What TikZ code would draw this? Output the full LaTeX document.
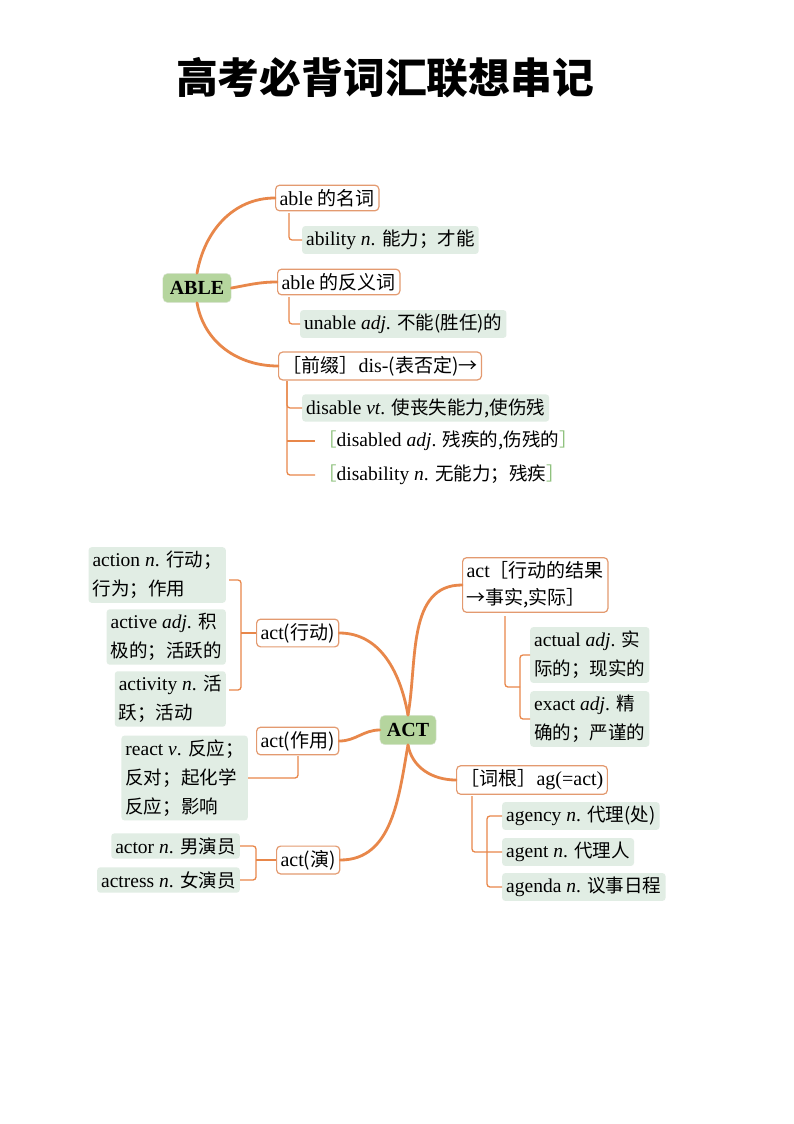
\documentclass[tikz,border=0pt]{standalone}
\usepackage{fontspec}
\setmainfont{Liberation Serif}
\newfontfamily\cjk[Scale=0.95]{Noto Sans CJK SC}
\newcommand\zh[1]{{\cjk #1}}
\definecolor{org}{HTML}{E8874A}
\definecolor{bord}{HTML}{E39A70}
\definecolor{gbox}{HTML}{B5D59E}
\definecolor{leaf}{HTML}{E1EDE4}
\definecolor{brk}{HTML}{8CC07A}
\newcommand\lb{{\color{brk}\zh{［}}}
\newcommand\rb{{\color{brk}\zh{］}}}
\tikzset{
 root/.style={draw=gbox!80!black!30,fill=gbox,rounded corners=5,font=\fontsize{20}{22}\selectfont\bfseries,inner xsep=7,inner ysep=8},
 obox/.style={draw=bord,line width=1.2,fill=white,rounded corners=4,inner sep=4,font=\fontsize{20}{27}\selectfont,anchor=west,align=left},
 lf/.style={fill=leaf,rounded corners=3,inner sep=4,font=\fontsize{19.5}{29}\selectfont,anchor=west,align=left},
 pl/.style={inner sep=3,font=\fontsize{19.5}{22}\selectfont,anchor=west},
 branch/.style={draw=org,line width=2.8,line cap=round},
 thin/.style={draw=org,line width=1.3,rounded corners=3},
}
\begin{document}
\begin{tikzpicture}[x=1pt,y=-1pt]
\useasboundingbox[fill=white] (0,0) rectangle (794,1124);
\node (title) at (385,78) {\cjk\fontsize{44}{50}\selectfont\bfseries 高考必背词汇联想串记};
% ABLE
\node[root] (able) at (197,288) {ABLE};
\node[obox] (a1) at (275,198) {able \zh{的名词}};
\node[lf] (a1c) at (302,240) {ability \textit{n}. \zh{能力；才能}};
\node[obox] (a2) at (277,282) {able \zh{的反义词}};
\node[lf] (a2c) at (300,324) {unable \textit{adj}. \zh{不能(胜任)的}};
\node[obox] (a3) at (278,366) {\zh{［前缀］}dis-\zh{(表否定)→}};
\node[lf] (a3a) at (302,408) {disable \textit{vt}. \zh{使丧失能力,使伤残}};
\node[pl] (a3b) at (315,441) {\lb disabled \textit{adj}. \zh{残疾的,伤残的}\rb};
\node[pl] (a3c) at (315,475) {\lb disability \textit{n}. \zh{无能力；残疾}\rb};
\draw[branch] (able.north) to[out=80,in=180] (a1.west);
\draw[branch] (able.east) to[out=10,in=180] (a2.west);
\draw[branch] (able.south) to[out=-80,in=180] (a3.west);
\coordinate (p1) at (289,213);
\draw[thin] (p1) |- (a1c.west);
\coordinate (p2) at (289,297);
\draw[thin] (p2) |- (a2c.west);
\coordinate (p3) at (287,381);
\draw[thin] (p3) |- (a3a.west);
\draw[thin] (p3) |- (a3c.west);
\coordinate (p4) at (287,441);
\draw[thin] (p4) -- (a3b.west);
% ACT
\node[root] (act) at (408,730) {ACT};
\node[obox] (b1) at (256,633) {act\zh{(行动)}};
\node[obox] (b2) at (256,741) {act\zh{(作用)}};
\node[obox] (b3) at (276,860) {act\zh{(演)}};
\node[lf,anchor=east] (l1) at (226,575) {action \textit{n}. \zh{行动；}\\\zh{行为；作用}};
\node[lf,anchor=east] (l2) at (226,637) {active \textit{adj}. \zh{积}\\\zh{极的；活跃的}};
\node[lf,anchor=east] (l3) at (226,699) {activity \textit{n}. \zh{活}\\\zh{跃；活动}};
\node[lf,anchor=east] (l4) at (248,778) {react \textit{v}. \zh{反应；}\\\zh{反对；起化学}\\\zh{反应；影响}};
\node[lf,anchor=east] (l5) at (240,846) {actor \textit{n}. \zh{男演员}};
\node[lf,anchor=east] (l6) at (240,880) {actress \textit{n}. \zh{女演员}};
\draw[branch] (act.north) to[out=100,in=0] (b1.east);
\draw[branch] (act.west) to[out=180,in=0] (b2.east);
\draw[branch] (act.south) to[out=-100,in=0] (b3.east);
\coordinate (q1) at (241,633);
\draw[thin] (b1.west) -- (q1);
\draw[thin] (229,580) -| (q1) |- (229,690);
\coordinate (q2) at (298,756);
\draw[thin] (q2) |- (l4.east);
\coordinate (q3) at (256,860);
\draw[thin] (b3.west) -- (q3);
\draw[thin] (l5.east) -| (q3) |- (l6.east);
% right
\node[obox] (c1) at (462,585) {act\zh{［行动的结果}\\\zh{→事实,实际］}};
\node[lf] (c1a) at (530,655) {actual \textit{adj}. \zh{实}\\\zh{际的；现实的}};
\node[lf] (c1b) at (530,719) {exact \textit{adj}. \zh{精}\\\zh{确的；严谨的}};
\node[obox] (c2) at (456,780) {\zh{［词根］}ag(=act)};
\node[lf] (c2a) at (502,816) {agency \textit{n}. \zh{代理(处)}};
\node[lf] (c2b) at (502,852) {agent \textit{n}. \zh{代理人}};
\node[lf] (c2c) at (502,887) {agenda \textit{n}. \zh{议事日程}};
\draw[branch] (act.north) to[out=80,in=180] (c1.west);
\draw[branch] (act.south) to[out=-80,in=180] (c2.west);
\coordinate (r1) at (505,616);
\coordinate (r2) at (520,687);
\draw[thin] (r1) |- (r2);
\draw[thin] (c1a.west) -| (r2) |- (c1b.west);
\coordinate (r3) at (472,796);
\coordinate (r4) at (487,852);
\draw[thin] (r3) |- (c2b.west);
\draw[thin] (c2a.west) -| (r4) |- (c2c.west);
\end{tikzpicture}
\end{document}
